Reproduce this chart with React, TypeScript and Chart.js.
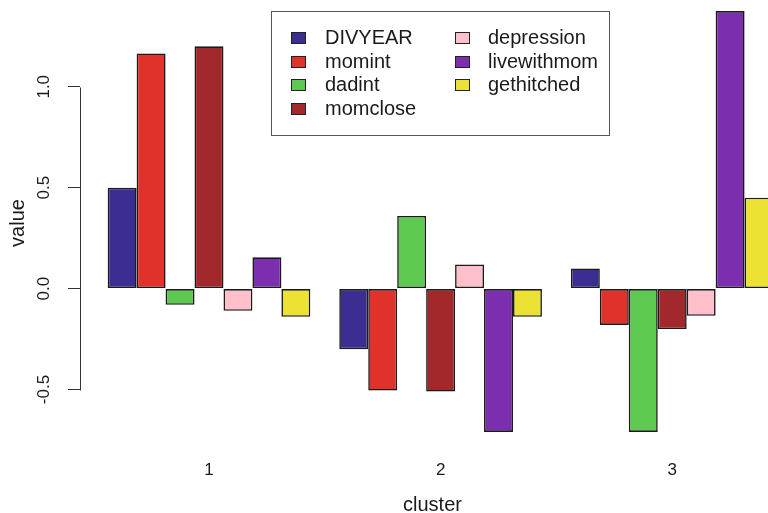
import React, { useEffect, useRef } from 'react';
import { Chart, registerables } from 'chart.js';

Chart.register(...registerables);

const FONT = '"Liberation Sans", Arial, Helvetica, sans-serif';

const clusters = [1, 2, 3];
const seriesNames = ['DIVYEAR', 'momint', 'dadint', 'momclose', 'depression', 'livewithmom', 'gethitched'];
const seriesColors = ['#3a2e92', '#e0322a', '#5ec950', '#a3282b', '#ffc0cb', '#7b2fae', '#ebe233'];

const DIVYEAR = [0.5, -0.3, 0.1];
const momint = [1.165, -0.505, -0.18];
const dadint = [-0.08, 0.36, -0.71];
const momclose = [1.2, -0.51, -0.2];
const depression = [-0.11, 0.12, -0.135];
const livewithmom = [0.155, -0.71, 1.375];
const gethitched = [-0.14, -0.14, 0.45];

const seriesValues = [DIVYEAR, momint, dadint, momclose, depression, livewithmom, gethitched];

const yTicks = [-0.5, 0.0, 0.5, 1.0];
const Y_MIN = -0.75;
const Y_MAX = 1.4;
const X_MIN = 0.443;
const X_MAX = 3.487;

const TEXT = '#1a1a1a';
const LINE = '#333333';

const yAxisLinePlugin = {
  id: 'rYAxisLine',
  afterDraw(chart: any) {
    const s = chart.scales.y;
    const ctx = chart.ctx;
    const x = Math.round(s.right) + 0.5;
    ctx.save();
    ctx.strokeStyle = LINE;
    ctx.lineWidth = 1;
    ctx.beginPath();
    ctx.moveTo(x, Math.round(s.getPixelForValue(yTicks[yTicks.length - 1])) + 0.5);
    ctx.lineTo(x, Math.round(s.getPixelForValue(yTicks[0])) + 0.5);
    ctx.stroke();
    ctx.restore();
  },
};

const legendPlugin = {
  id: 'rLegend',
  afterDraw(chart: any) {
    const ctx = chart.ctx;
    ctx.save();
    ctx.fillStyle = '#ffffff';
    ctx.fillRect(271.5, 11.5, 338, 124);
    ctx.strokeStyle = '#555555';
    ctx.lineWidth = 1;
    ctx.strokeRect(271.5, 11.5, 338, 124);
    ctx.font = `20px ${FONT}`;
    ctx.textBaseline = 'middle';
    ctx.textAlign = 'left';
    chart.data.datasets.forEach((ds: any, i: number) => {
      const col = Math.floor(i / 4);
      const row = i % 4;
      const sx = col === 0 ? 291 : 455;
      const tx = col === 0 ? 325 : 488;
      const cy = 37.5 + row * 23.5;
      ctx.fillStyle = ds.backgroundColor;
      ctx.fillRect(sx + 0.5, Math.round(cy - 5.5) + 0.5, 14, 11);
      ctx.strokeStyle = '#222222';
      ctx.strokeRect(sx + 0.5, Math.round(cy - 5.5) + 0.5, 14, 11);
      ctx.fillStyle = TEXT;
      ctx.fillText(ds.label, tx, cy + 1);
    });
    ctx.restore();
  },
};

export default function App() {
  const canvasRef = useRef<HTMLCanvasElement | null>(null);

  useEffect(() => {
    if (!canvasRef.current) return;
    const datasets = seriesNames.map((name, si) => ({
      label: name,
      data: clusters.map((c, ci) => ({ x: c, y: seriesValues[si][ci] })),
      backgroundColor: seriesColors[si],
      borderColor: '#1a1a1a',
      borderWidth: 1.6,
      borderSkipped: false,
      categoryPercentage: 7 / 8,
      barPercentage: 1,
    }));

    const chart = new Chart(canvasRef.current, {
      type: 'bar',
      data: { datasets } as any,
      options: {
        responsive: false,
        animation: false,
        devicePixelRatio: 1,
        layout: { padding: { top: 6, left: 0, right: 5, bottom: 0 } },
        plugins: {
          legend: { display: false },
          tooltip: { enabled: false },
        },
        scales: {
          x: {
            type: 'linear',
            min: X_MIN,
            max: X_MAX,
            offset: false,
            grid: { display: false, drawTicks: false },
            border: { display: false },
            afterBuildTicks: (s: any) => {
              s.ticks = clusters.map((v) => ({ value: v }));
            },
            afterFit: (s: any) => {
              s.height = 73;
              s.paddingLeft = 0;
              s.paddingRight = 0;
              s.paddingTop = 0;
              s.paddingBottom = 0;
            },
            ticks: {
              autoSkip: false,
              maxRotation: 0,
              padding: 20,
              color: TEXT,
              font: { family: FONT, size: 17 },
              callback: (v: any) => String(v),
            },
            title: {
              display: true,
              text: 'cluster',
              color: TEXT,
              font: { family: FONT, size: 20, lineHeight: 1 },
              padding: { top: 0, bottom: -2 },
            },
          },
          y: {
            type: 'linear',
            min: Y_MIN,
            max: Y_MAX,
            grid: {
              display: true,
              drawOnChartArea: false,
              drawTicks: true,
              tickLength: 12,
              color: LINE,
              lineWidth: 1,
            },
            border: { display: false },
            afterBuildTicks: (s: any) => {
              s.ticks = yTicks.map((v) => ({ value: v }));
            },
            afterFit: (s: any) => {
              s.width = 80;
              s.paddingTop = 0;
              s.paddingBottom = 0;
              s.paddingLeft = 0;
              s.paddingRight = 0;
            },
            ticks: {
              minRotation: 90,
              maxRotation: 90,
              crossAlign: 'center',
              padding: 9,
              color: TEXT,
              font: { family: FONT, size: 17 },
              callback: (v: any) => Number(v).toFixed(1),
            },
            title: {
              display: true,
              text: 'value',
              color: TEXT,
              font: { family: FONT, size: 20, lineHeight: 1 },
              padding: { top: 8, bottom: 0 },
            },
          },
        },
      } as any,
      plugins: [yAxisLinePlugin, legendPlugin],
    });
    return () => chart.destroy();
  }, []);

  return (
    <div
      style={{
        position: 'fixed',
        left: 0,
        top: 0,
        width: 768,
        height: 513,
        overflow: 'hidden',
        background: '#ffffff',
      }}
    >
      <canvas ref={canvasRef} width={790} height={513} style={{ display: 'block' }} />
    </div>
  );
}
